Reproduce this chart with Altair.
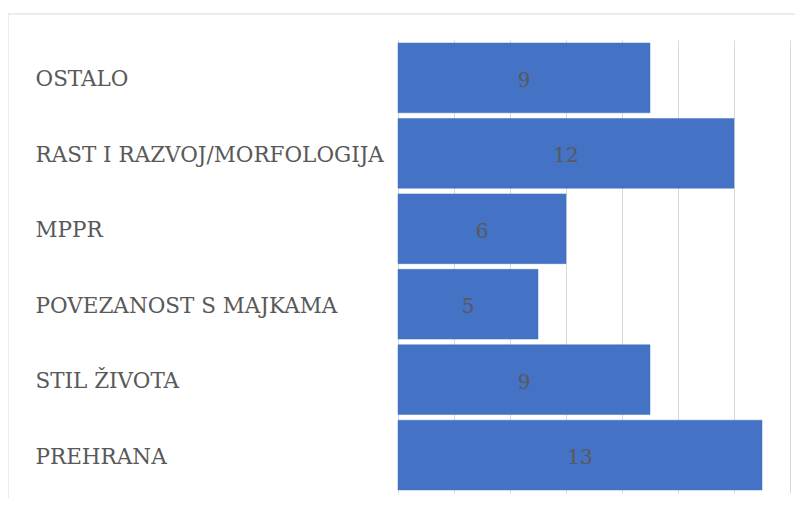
import altair as alt
import pandas as pd

categories = ["OSTALO", "RAST I RAZVOJ/MORFOLOGIJA", "MPPR", "POVEZANOST S MAJKAMA", "STIL ŽIVOTA", "PREHRANA"]
values = [9, 12, 6, 5, 9, 13]
x_ticks = [0, 2, 4, 6, 8, 10, 12, 14]

df = pd.DataFrame({"cat": categories, "val": values})

FONT = "DejaVu Serif"
W, H = 392, 453

y_enc = alt.Y("cat:N", sort=categories,
              scale=alt.Scale(paddingInner=0.075, paddingOuter=0.04),
              axis=alt.Axis(title=None, ticks=False, domain=False, labelAlign="left",
                            labelPadding=363, labelFont=FONT, labelFontSize=21.5,
                            labelColor="#595959", labelLimit=400, labelBaseline="middle",
                            labelOffset=2.5))
x_enc = alt.X("val:Q", scale=alt.Scale(domain=[0, 14], nice=False),
              axis=alt.Axis(title=None, values=x_ticks, labels=False, ticks=False,
                            domain=False, grid=True, gridColor="#d9d9d9", gridWidth=1))

border = alt.Chart(pd.DataFrame({"a": [0]})).mark_rect(
    fill=None, stroke="#d9d9d9", strokeWidth=1
).encode(x=alt.value(-390), x2=alt.value(420), y=alt.value(-26), y2=alt.value(520))

bars = alt.Chart(df).mark_bar(color="#4472C4", stroke="#4472C4", strokeWidth=0.5).encode(
    y=y_enc, x=x_enc
)

labels = alt.Chart(df).mark_text(font=FONT, fontSize=20, color="#595959",
                                  align="center", baseline="middle", dy=3).encode(
    y=alt.Y("cat:N", sort=categories),
    x=alt.X("mid:Q"),
    text="val:Q"
).transform_calculate(mid="datum.val / 2")

chart = alt.layer(border, bars, labels).properties(
    width=W, height=H,
    autosize=alt.AutoSizeParams(type="none"),
    padding={"left": 390, "top": 32, "right": 5, "bottom": 5}
).configure_view(stroke=None)

chart.save("out.html", embed_options={"renderer": "svg", "actions": False})
